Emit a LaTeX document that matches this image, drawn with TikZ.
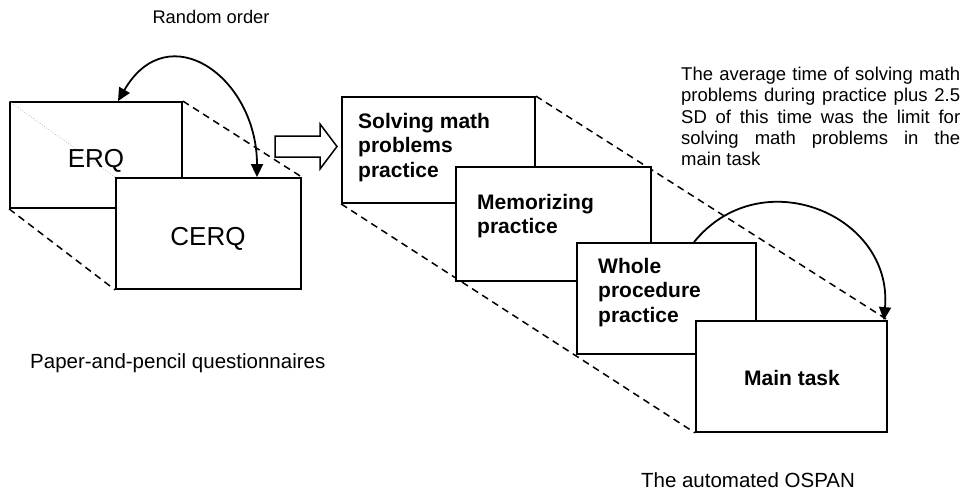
\documentclass[tikz,border=0pt]{standalone}
\usepackage{fontspec}
\setmainfont{Liberation Sans}
\usetikzlibrary{arrows.meta,backgrounds,calc}
\begin{document}
\begin{tikzpicture}[x=1pt,y=-1pt,
  box/.style={draw, line width=1.8pt, fill=white, inner sep=0pt},
  dashline/.style={line width=1.5pt, dash pattern=on 7pt off 5pt},
  arcline/.style={line width=1.8pt},
  tip/.tip={Triangle[length=13pt,width=12pt]},
  boldtext/.style={font=\bfseries\fontsize{21}{24.5}\selectfont, align=left, inner sep=0pt},
  bigtext/.style={font=\fontsize{26}{30}\selectfont, inner sep=0pt},
  labeltext/.style={font=\fontsize{20.5}{24}\selectfont, inner sep=0pt}]
\useasboundingbox (0,0) rectangle (961,491);

% boxes
\node[box, minimum width=172pt, minimum height=106pt] (erq) at (96,155) {};
\node[box, minimum width=185pt, minimum height=111pt] (cerq) at (208.5,233.5) {};
\node[box, minimum width=193pt, minimum height=106pt] (solve) at (438.5,150) {};
\node[box, minimum width=195pt, minimum height=114pt] (memo) at (553.5,224) {};
\node[box, minimum width=179pt, minimum height=111pt] (whole) at (666.5,298.5) {};
\node[box, minimum width=191pt, minimum height=111pt] (main) at (791.5,376.5) {};

% dashed projection lines
\begin{scope}[on background layer]
\draw[dashline] (erq.north east) -- (cerq.north east);
\draw[dashline] (erq.south west) -- (cerq.south west);
\draw[dashline] (solve.north east) -- (main.north east);
\draw[dashline] (solve.south west) -- (main.south west);
\end{scope}
\draw[gray!70, dotted, line width=0.7pt] (erq.north west) -- (cerq.north west);

% texts in boxes
\node[bigtext, anchor=base] (terq) at (96,167.3) {ERQ};
\node[bigtext, anchor=base] (tcerq) at (208,245) {CERQ};
\node[boldtext, anchor=north west] (tsolve) at (358,113) {Solving math\\problems\\practice};
\node[boldtext, anchor=north west] (tmemo) at (477,194) {Memorizing\\practice};
\node[boldtext, anchor=north west] (twhole) at (598,258) {Whole\\procedure\\practice};
\node[boldtext, anchor=base] (tmain) at (792,385) {Main task};

% block arrow
\draw[line width=1.5pt, fill=white] (275,136) -- (320,136) -- (320,124) -- (337,146.5)
  -- (320,169) -- (320,157) -- (275,157) -- cycle;

% curved arrows
\coordinate (la) at ([xshift=22pt]erq.north);
\coordinate (lb) at ([xshift=48.5pt]cerq.north);
\draw[arcline, tip-tip] (la) .. controls +(60:100pt) and +(90:100pt) .. (lb);
\coordinate (ra) at ([xshift=27.5pt]whole.north);
\coordinate (rb) at ([xshift=-4pt]main.north east);
\draw[arcline, -tip] (ra) .. controls +(51:106pt) and +(85:106pt) .. (rb);

% labels
\node[font=\fontsize{18.3}{22}\selectfont, inner sep=0pt, anchor=base] (rand) at (211,23.3) {Random order};
\node[labeltext, anchor=base west] (paper) at (30,368) {Paper-and-pencil questionnaires};
\node[labeltext, anchor=base] (ospan) at (748,487.5) {The automated OSPAN};
\node[anchor=north west, text width=279pt, align=justify, inner sep=0pt,
  font=\fontsize{18.5}{21.3}\selectfont] (note) at (681,67)
  {\tolerance=10000\hyphenpenalty=10000 The average time of solving math\linebreak problems during practice plus 2.5\linebreak SD of this time was the limit for\linebreak solving math problems in the\linebreak main task};
\end{tikzpicture}
\end{document}
